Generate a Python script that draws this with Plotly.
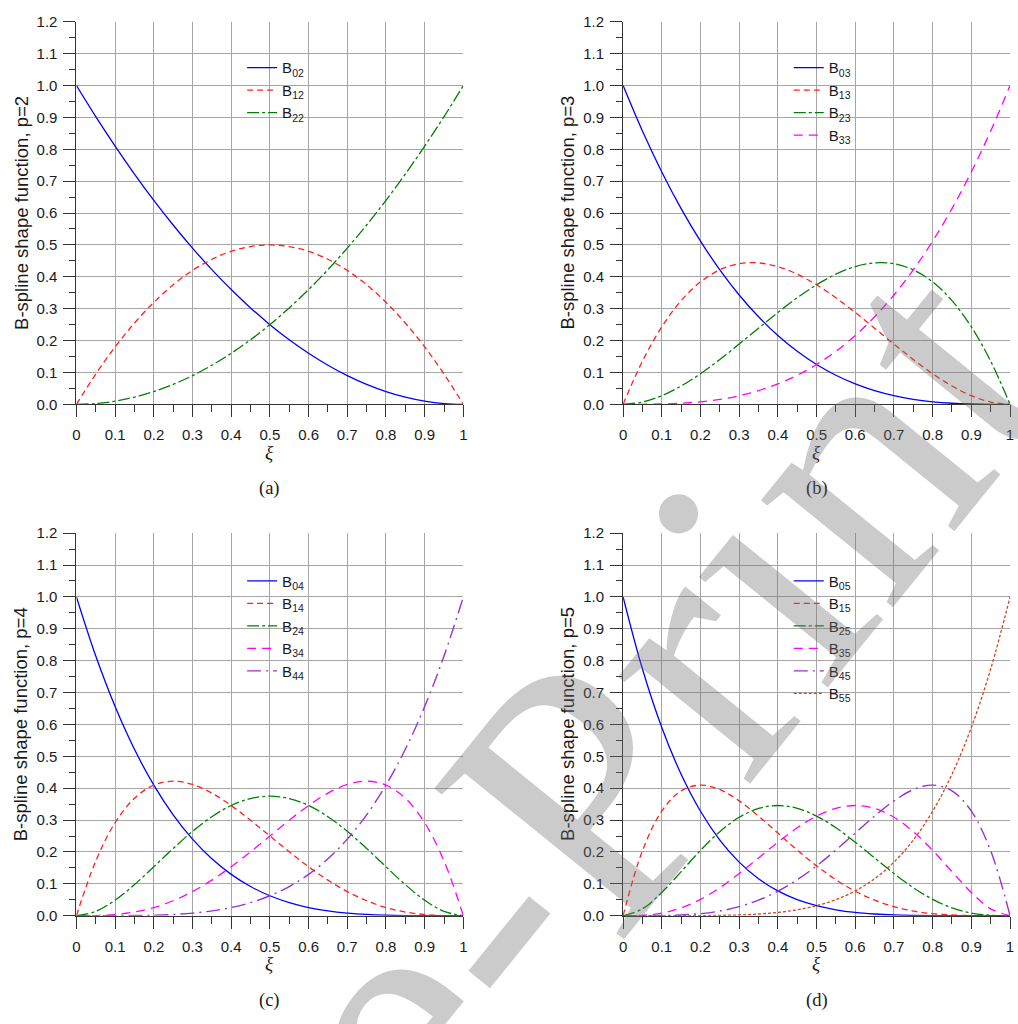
import plotly.graph_objects as go

# ---------------- data ----------------
XI = [0.0, 0.05, 0.1, 0.15, 0.2, 0.25, 0.3, 0.35, 0.4, 0.45, 0.5,
      0.55, 0.6, 0.65, 0.7, 0.75, 0.8, 0.85, 0.9, 0.95, 1.0]
X_TICKS = [0, 0.1, 0.2, 0.3, 0.4, 0.5, 0.6, 0.7, 0.8, 0.9, 1]
X_TICK_TEXT = ["0", "0.1", "0.2", "0.3", "0.4", "0.5", "0.6", "0.7", "0.8", "0.9", "1"]

# p = 2
B02 = [1.0, .9025, .81, .7225, .64, .5625, .49, .4225, .36, .3025, .25, .2025, .16, .1225, .09, .0625, .04, .0225, .01, .0025, 0.0]
B12 = [0.0, .095, .18, .255, .32, .375, .42, .455, .48, .495, .5, .495, .48, .455, .42, .375, .32, .255, .18, .095, 0.0]
B22 = [0.0, .0025, .01, .0225, .04, .0625, .09, .1225, .16, .2025, .25, .3025, .36, .4225, .49, .5625, .64, .7225, .81, .9025, 1.0]

# p = 3
B03 = [1.0, .8574, .729, .6141, .512, .4219, .343, .2746, .216, .1664, .125, .0911, .064, .0429, .027, .0156, .008, .0034, .001, .0001, 0.0]
B13 = [0.0, .1354, .243, .3251, .384, .4219, .441, .4436, .432, .4084, .375, .3341, .288, .2389, .189, .1406, .096, .0574, .027, .0071, 0.0]
B23 = [0.0, .0071, .027, .0574, .096, .1406, .189, .2389, .288, .3341, .375, .4084, .432, .4436, .441, .4219, .384, .3251, .243, .1354, 0.0]
B33 = [0.0, .0001, .001, .0034, .008, .0156, .027, .0429, .064, .0911, .125, .1664, .216, .2746, .343, .4219, .512, .6141, .729, .8574, 1.0]

# p = 4
B04 = [1.0, .8145, .6561, .522, .4096, .3164, .2401, .1785, .1296, .0915, .0625, .041, .0256, .015, .0081, .0039, .0016, .0005, .0001, 0.0, 0.0]
B14 = [0.0, .1715, .2916, .3685, .4096, .4219, .4116, .3845, .3456, .2995, .25, .2005, .1536, .1115, .0756, .0469, .0256, .0115, .0036, .0005, 0.0]
B24 = [0.0, .0135, .0486, .0975, .1536, .2109, .2646, .3105, .3456, .3675, .375, .3675, .3456, .3105, .2646, .2109, .1536, .0975, .0486, .0135, 0.0]
B34 = [0.0, .0005, .0036, .0115, .0256, .0469, .0756, .1115, .1536, .2005, .25, .2995, .3456, .3845, .4116, .4219, .4096, .3685, .2916, .1715, 0.0]
B44 = [0.0, 0.0, .0001, .0005, .0016, .0039, .0081, .015, .0256, .041, .0625, .0915, .1296, .1785, .2401, .3164, .4096, .522, .6561, .8145, 1.0]

# p = 5
B05 = [1.0, .7738, .5905, .4437, .3277, .2373, .1681, .116, .0778, .0503, .0313, .0185, .0102, .0053, .0024, .001, .0003, .0001, 0.0, 0.0, 0.0]
B15 = [0.0, .2036, .3281, .3915, .4096, .3955, .3602, .3124, .2592, .2059, .1563, .1128, .0768, .0488, .0284, .0146, .0064, .0022, .0005, 0.0, 0.0]
B25 = [0.0, .0214, .0729, .1382, .2048, .2637, .3087, .3364, .3456, .3369, .3125, .2757, .2304, .1811, .1323, .0879, .0512, .0244, .0081, .0011, 0.0]
B35 = [0.0, .0011, .0081, .0244, .0512, .0879, .1323, .1811, .2304, .2757, .3125, .3369, .3456, .3364, .3087, .2637, .2048, .1382, .0729, .0214, 0.0]
B45 = [0.0, 0.0, .0005, .0022, .0064, .0146, .0284, .0488, .0768, .1128, .1563, .2059, .2592, .3124, .3602, .3955, .4096, .3915, .3281, .2036, 0.0]
B55 = [0.0, 0.0, 0.0, .0001, .0003, .001, .0024, .0053, .0102, .0185, .0313, .0503, .0778, .116, .1681, .2373, .3277, .4437, .5905, .7738, 1.0]

PANELS = [
    {"p": 2, "series": [("B<sub>02</sub>", B02), ("B<sub>12</sub>", B12), ("B<sub>22</sub>", B22)], "caption": "(a)"},
    {"p": 3, "series": [("B<sub>03</sub>", B03), ("B<sub>13</sub>", B13), ("B<sub>23</sub>", B23), ("B<sub>33</sub>", B33)], "caption": "(b)"},
    {"p": 4, "series": [("B<sub>04</sub>", B04), ("B<sub>14</sub>", B14), ("B<sub>24</sub>", B24), ("B<sub>34</sub>", B34), ("B<sub>44</sub>", B44)], "caption": "(c)"},
    {"p": 5, "series": [("B<sub>05</sub>", B05), ("B<sub>15</sub>", B15), ("B<sub>25</sub>", B25), ("B<sub>35</sub>", B35), ("B<sub>45</sub>", B45), ("B<sub>55</sub>", B55)], "caption": "(d)"},
]

# ---------------- styles ----------------
W, H = 1018, 1024
STYLES = [
    dict(color="#0000ff", dash="solid", width=1.3),
    dict(color="#ff2020", dash="6px,4px", width=1.3),
    dict(color="#008000", dash="12px,3px,3px,3px", width=1.3),
    dict(color="#ff00ff", dash="9px,6px", width=1.3),
    dict(color="#9932cc", dash="14px,5px,2px,5px", width=1.4),
    dict(color="#d2461e", dash="3px,2px", width=1.3),
]

# plot-area pixel boxes: (left, right, top, bottom)
BOXES = [(73, 463, 13, 402), (624, 1014, 13, 402), (73, 463, 533, 922), (624, 1014, 533, 922)]
LEGEND_POS = [(240, 43), (791, 43), (240, 565), (791, 565)]

def px_x(x):
    return x / W

def px_y(y):
    return 1 - y / H

SANS = "Liberation Sans, Arial, sans-serif"
SERIF = "Liberation Serif, Times New Roman, serif"
AXIS_COLOR = "#333333"
GRID_COLOR = "#a6a6a6"
TICK_FONT = dict(family=SANS, size=15, color="#1a1a1a")

fig = go.Figure()
layout = {}
annotations = []

for i, panel in enumerate(PANELS):
    k = "" if i == 0 else str(i + 1)
    xname, yname = "x" + k, "y" + k
    legname = "legend" + k
    l, r, t, b = BOXES[i]
    for j, (name, vals) in enumerate(panel["series"]):
        st = STYLES[j]
        fig.add_trace(go.Scatter(
            x=XI, y=vals, mode="lines", name=name,
            line=dict(color=st["color"], dash=st["dash"], width=st["width"], shape="spline", smoothing=1.0),
            xaxis=xname, yaxis=yname, legend=legname, showlegend=True,
        ))
    layout["xaxis" + k] = dict(
        domain=[px_x(l), px_x(r)], anchor=yname, range=[0, 1],
        tickmode="array", tickvals=X_TICKS, ticktext=X_TICK_TEXT,
        showgrid=True, gridcolor=GRID_COLOR, gridwidth=1, zeroline=False,
        showline=True, linecolor=AXIS_COLOR, linewidth=1,
        ticks="outside", ticklen=12, tickcolor=AXIS_COLOR, tickwidth=1,
        minor=dict(tickmode="linear", tick0=0, dtick=0.05, ticks="outside", ticklen=7,
                   tickcolor=AXIS_COLOR, showgrid=False),
        tickfont=TICK_FONT, ticklabelstandoff=5, fixedrange=True,
    )
    layout["yaxis" + k] = dict(
        domain=[px_y(b), px_y(t)], anchor=xname, range=[0, 1.2],
        tickmode="linear", tick0=0, dtick=0.1, tickformat=".1f",
        showgrid=True, gridcolor=GRID_COLOR, gridwidth=1, zeroline=False,
        showline=True, linecolor=AXIS_COLOR, linewidth=1,
        ticks="outside", ticklen=12, tickcolor=AXIS_COLOR, tickwidth=1,
        minor=dict(tickmode="linear", tick0=0, dtick=0.05, ticks="outside", ticklen=6,
                   tickcolor=AXIS_COLOR, showgrid=False),
        tickfont=TICK_FONT, ticklabelstandoff=3, fixedrange=True,
    )
    lx, ly = LEGEND_POS[i]
    layout[legname] = dict(
        x=px_x(lx), y=px_y(ly), xanchor="left", yanchor="top",
        bgcolor="rgba(0,0,0,0)", borderwidth=0, tracegroupgap=0,
        font=dict(family=SANS, size=15, color="#1a1a1a"),
        itemwidth=30,
    )
    cx = (l + r) / 2
    cy = (t + b) / 2
    # y-axis title
    annotations.append(dict(
        x=px_x(l - 56), y=px_y(cy), xref="paper", yref="paper",
        text="B-spline shape function, p=%d" % panel["p"], textangle=-90,
        showarrow=False, xanchor="center", yanchor="middle",
        font=dict(family=SANS, size=18.5, color="#1a1a1a"),
    ))
    # x-axis title
    annotations.append(dict(
        x=px_x(cx), y=px_y(b + 49), xref="paper", yref="paper",
        text="<i>ξ</i>", showarrow=False, xanchor="center", yanchor="middle",
        font=dict(family=SERIF, size=19, color="#1a1a1a"),
    ))
    # caption
    annotations.append(dict(
        x=px_x(cx), y=px_y(b + 86), xref="paper", yref="paper",
        text=panel["caption"], showarrow=False, xanchor="center", yanchor="middle",
        font=dict(family=SERIF, size=18.5, color="#1a1a1a"),
    ))

# watermark
annotations.append(dict(
    x=px_x(552), y=px_y(835), xref="paper", yref="paper",
    text="Pre-Print", textangle=-51, showarrow=False,
    xanchor="center", yanchor="middle",
    font=dict(family=SERIF, size=370, color="rgba(110,110,110,0.36)"),
))

fig.update_layout(
    width=W, height=H,
    margin=dict(l=0, r=0, t=0, b=0),
    paper_bgcolor="white", plot_bgcolor="white",
    annotations=annotations,
    **layout,
)

fig.write_html("out.html", config={"displayModeBar": False})
